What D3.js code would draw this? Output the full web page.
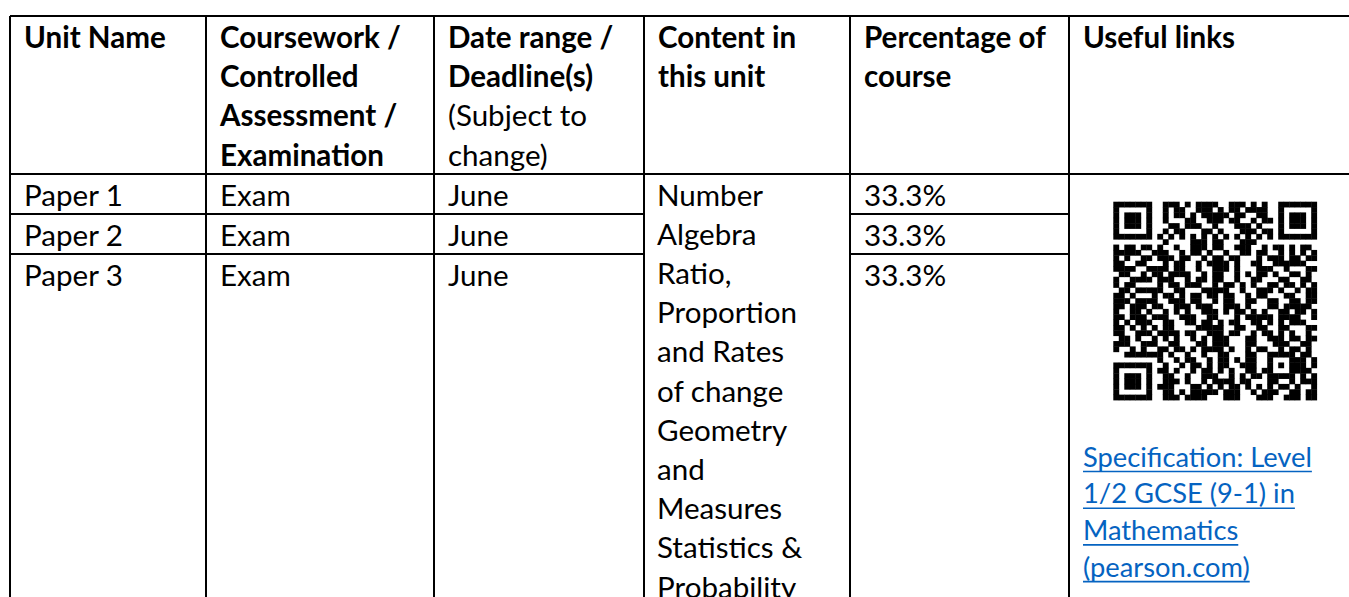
<!DOCTYPE html>
<html>
<head>
<meta charset="utf-8">
<script src="https://cdn.jsdelivr.net/npm/d3@7"></script>
<style>
  html, body { margin: 0; padding: 0; background: #fff; overflow: hidden; }
  svg { display: block; }
</style>
</head>
<body>
<svg id="chart" width="1349" height="597"></svg>
<script>
// ---------- DATA ----------
const headerLines = [
  [{t: "Unit Name", b: true}],
  [{t: "Coursework /", b: true}, {t: "Controlled", b: true}, {t: "Assessment /", b: true}, {t: "Examination", b: true}],
  [{t: "Date range /", b: true}, {t: "Deadline(s)", b: true}, {t: "(Subject to", b: false}, {t: "change)", b: false}],
  [{t: "Content in", b: true}, {t: "this unit", b: true}],
  [{t: "Percentage of", b: true}, {t: "course", b: true}],
  [{t: "Useful links", b: true}]
];
const unitNames = ["Paper 1", "Paper 2", "Paper 3"];
const assessmentTypes = ["Exam", "Exam", "Exam"];
const deadlines = ["June", "June", "June"];
const contentLines = ["Number", "Algebra", "Ratio,", "Proportion", "and Rates", "of change",
  "Geometry", "and", "Measures", "Statistics &", "Probability"];
const percentages = [33.3, 33.3, 33.3];
const linkLines = ["Specification: Level", "1/2 GCSE (9-1) in", "Mathematics", "(pearson.com)"];
const qrRows = [
  "1111111" + "0" + "011101011110011101010" + "0" + "1111111",
  "1000001" + "0" + "010110011101011011110" + "0" + "1000001",
  "1011101" + "0" + "010110101111101100110" + "0" + "1011101",
  "1011101" + "0" + "010001100111011001011" + "0" + "1011101",
  "1011101" + "0" + "001101110010001110100" + "0" + "1011101",
  "1000001" + "0" + "010110001101000111011" + "0" + "1000001",
  "1111111" + "0" + "101010101010101010101" + "0" + "1111111",
  "00000000" + "010000111011000111000" + "00000000",
  "1011011010" + "0100111011" + "0011100101" + "1010110",
  "1111100111" + "0010110100" + "1001101100" + "1010101",
  "1010011011" + "1011001011" + "0110001011" + "1011011",
  "1100110001" + "0110010111" + "1010011001" + "1111100",
  "1111001111" + "0110010011" + "1010001110" + "0100011",
  "0110010110" + "1111001011" + "0010101101" + "0011010",
  "1001111011" + "1001011011" + "0010011000" + "1100110",
  "1011000010" + "1101110010" + "1101010011" + "0110101",
  "0110111110" + "0110001111" + "1001001110" + "1001011",
  "1101000101" + "1010110110" + "1100101100" + "0110011",
  "1110111100" + "1110110010" + "1100110011" + "0011011",
  "1101110110" + "0111011100" + "1110100011" + "0111110",
  "1001101001" + "0101001110" + "1011010100" + "1101101",
  "1101110111" + "0011100110" + "0010111110" + "1111001",
  "1010111001" + "1001101101" + "0110011010" + "1011100",
  "1101010101" + "1000011111" + "0011001100" + "1100011",
  "1100111011" + "1101100111" + "0110010110" + "1010010",
  "0110100101" + "0100101011" + "1000110011" + "1011011",
  "1110011100" + "1100011011" + "1000110001" + "1100110",
  "1001010011" + "0110101111" + "0100101100" + "1011010",
  "0011111110" + "1001001001" + "1000110011" + "1110110",
  "00000000" + "10010110010110101100100011101",
  "1111111" + "0" + "01001011010110011100" + "10101" + "1101",
  "1000001" + "0" + "11010010110101001101" + "10001" + "1110",
  "1011101" + "0" + "01100100111001010110" + "11111" + "0101",
  "1011101" + "0" + "01110100101111011000110010111",
  "1011101" + "0" + "1110001101" + "0101101010" + "101101001",
  "1000001" + "0" + "0110101111" + "1011100101" + "110011011",
  "1111111" + "0" + "0111011110" + "0011100011" + "100111011"
];

// ---------- LAYOUT ----------
const W = 1349, H = 597;
const FONT = "Lato, 'Open Sans', sans-serif";
const colEdges = [10, 206, 434, 644, 850, 1069, 1360];
const tableTop = 16, headerBottom = 174, rowLines = [214, 254], tableBottom = 620;
const pad = 14;
const lineGap = 39.2;
const linkGap = 36.7;
const TEXT = "#000000", LINK = "#0563C1";

const svg = d3.select("#chart");
svg.append("rect").attr("width", W).attr("height", H).attr("fill", "#fff");

function measure(txt, weight) {
  const t = svg.append("text").attr("font-family", FONT).attr("font-size", 100)
    .attr("font-weight", weight).text(txt);
  const w = t.node().getComputedTextLength();
  t.remove();
  return w;
}
const fs = 100 * 140 / measure("Proportion", 400);
const linkFs = 100 * 229 / measure("Specification: Level", 400);

const g = svg.append("g");

// ---------- GRID ----------
const grid = g.append("g").attr("stroke", "#000").attr("stroke-width", 1.6).attr("shape-rendering", "crispEdges");
grid.append("line").attr("x1", colEdges[0]).attr("x2", W).attr("y1", tableTop).attr("y2", tableTop);
grid.append("line").attr("x1", colEdges[0]).attr("x2", W).attr("y1", headerBottom).attr("y2", headerBottom);
grid.selectAll("line.v").data(colEdges.slice(0, 6)).join("line").attr("class", "v")
  .attr("x1", d => d).attr("x2", d => d).attr("y1", tableTop).attr("y2", tableBottom);
rowLines.forEach(y => {
  grid.append("line").attr("x1", colEdges[0]).attr("x2", colEdges[3]).attr("y1", y).attr("y2", y);
  grid.append("line").attr("x1", colEdges[4]).attr("x2", colEdges[5]).attr("y1", y).attr("y2", y);
});

// ---------- HEADER ----------
const headerBase = 48;
headerLines.forEach((lines, ci) => {
  g.append("g").selectAll("text").data(lines).join("text")
    .attr("x", colEdges[ci] + pad)
    .attr("y", (d, i) => headerBase + i * lineGap)
    .attr("font-family", FONT).attr("font-size", fs)
    .attr("font-weight", d => d.b ? 700 : 400)
    .attr("fill", TEXT)
    .text(d => d.t);
});

// ---------- BODY ROWS ----------
const rowBase = 205.5;
const rowY = d3.scaleLinear().domain([0, 1]).range([rowBase, rowBase + 40]);
function column(ci, values, fmt) {
  g.append("g").selectAll("text").data(values).join("text")
    .attr("x", colEdges[ci] + pad)
    .attr("y", (d, i) => rowY(i))
    .attr("font-family", FONT).attr("font-size", fs).attr("fill", TEXT)
    .text(fmt || (d => d));
}
column(0, unitNames);
column(1, assessmentTypes);
column(2, deadlines);
column(4, percentages, d => d3.format(".1f")(d) + "%");

g.append("g").selectAll("text").data(contentLines).join("text")
  .attr("x", colEdges[3] + pad - 1)
  .attr("y", (d, i) => rowBase + i * lineGap)
  .attr("font-family", FONT).attr("font-size", fs).attr("fill", TEXT)
  .text(d => d);

// ---------- QR CODE ----------
const N = qrRows.length;
const qx = d3.scaleBand().domain(d3.range(N)).range([1113.3, 1316.7]);
const qy = d3.scaleBand().domain(d3.range(N)).range([201.7, 400]);
const cells = [];
qrRows.forEach((row, r) => row.split("").forEach((c, k) => { if (c === "1") cells.push({r, k}); }));
g.append("g").selectAll("rect").data(cells).join("rect")
  .attr("x", d => qx(d.k)).attr("y", d => qy(d.r))
  .attr("width", qx.bandwidth() + 0.4).attr("height", qy.bandwidth() + 0.4)
  .attr("fill", "#000");

// ---------- LINK ----------
const linkBase = 466.5;
const linkG = g.append("g");
linkLines.forEach((t, i) => {
  const x = colEdges[5] + pad;
  const y = linkBase + i * linkGap;
  const txt = linkG.append("text").attr("x", x).attr("y", y)
    .attr("font-family", FONT).attr("font-size", linkFs).attr("fill", LINK).text(t);
  const w = txt.node().getComputedTextLength();
  linkG.append("line").attr("x1", x).attr("x2", x + w).attr("y1", y + 5).attr("y2", y + 5)
    .attr("stroke", LINK).attr("stroke-width", 1.6);
});
</script>
</body>
</html>
